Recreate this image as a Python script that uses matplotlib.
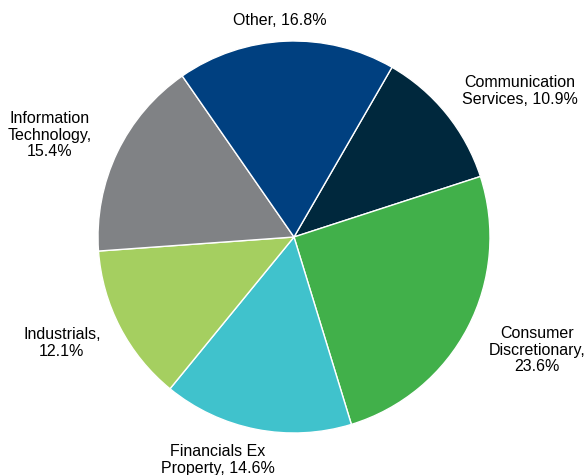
import matplotlib
matplotlib.use('Agg')
import matplotlib.pyplot as plt

plt.rcParams['font.family'] = ['Liberation Sans', 'DejaVu Sans']

weights = [10.9, 23.6, 14.6, 12.1, 15.4, 16.8]
colors = ['#00283d', '#41b04a', '#40c2cc', '#a5cf60', '#808285', '#004080']
label_text = ['Communication\nServices, 10.9%', 'Consumer\nDiscretionary,\n23.6%',
              'Financials Ex\nProperty, 14.6%', 'Industrials,\n12.1%',
              'Information\nTechnology,\n15.4%', 'Other, 16.8%']
# label centres, in units of the pie radius
label_pos = [(1.153, 0.745), (1.240, -0.577), (-0.388, -1.138),
             (-1.184, -0.541), (-1.245, 0.52), (-0.071, 1.107)]

fig = plt.figure(figsize=(5.85, 4.75), dpi=100)
ax = fig.add_axes([0, 0, 1, 1])
wedges, _ = ax.pie(weights, colors=colors, startangle=60, counterclock=False,
                   wedgeprops=dict(edgecolor='white', linewidth=1))

for txt, (x, y) in zip(label_text, label_pos):
    ax.text(x, y, txt, ha='center', va='center', fontsize=11.5, linespacing=1.15)

ax.set_aspect('auto')
ax.set_xlim(-294 / 196, (585 - 294) / 196)
ax.set_ylim(-(475 - 237) / 196, 237 / 196)
ax.axis('off')

fig.savefig('out.png', dpi=100)
